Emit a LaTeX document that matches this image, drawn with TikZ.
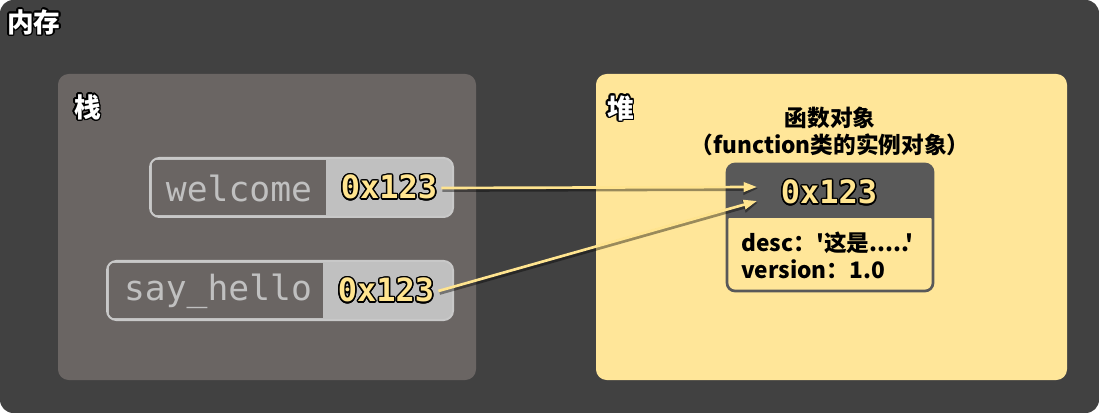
\documentclass[tikz,border=0pt]{standalone}
\usepackage{fontspec}
\setmainfont{Noto Sans CJK SC}
\setmonofont{DejaVu Sans Mono}
\newfontfamily\fieldfont{Noto Sans CJK SC}
\usepackage{contour}
\contourlength{1.1pt}
\usetikzlibrary{arrows.meta}
\definecolor{memorybg}{HTML}{414141}
\definecolor{stackbg}{HTML}{6A6563}
\definecolor{heapbg}{HTML}{FFE699}
\definecolor{slotbg}{HTML}{C0C0C0}
\definecolor{slotline}{HTML}{C8C8C8}
\definecolor{objtop}{HTML}{595959}
\definecolor{addrfg}{HTML}{FFE48F}
\tikzset{
  area/.style={font=\bfseries\fontsize{20}{23}\selectfont, text=white, anchor=north west, inner sep=0pt},
  varname/.style={font=\ttfamily\fontsize{26}{30}\selectfont, text=slotbg, inner sep=2pt},
  addr/.style={font=\ttfamily\bfseries\fontsize{24}{28}\selectfont, text=addrfg, inner sep=3pt},
  caption/.style={font=\bfseries\fontsize{17}{21}\selectfont, text=black, inner sep=1pt},
  field/.style={font=\fieldfont\bfseries\fontsize{17}{21}\selectfont, text=black, anchor=west, inner sep=0pt},
  ref/.style={draw=addrfg, line width=2pt, -{Triangle[length=10pt,width=7pt]}},
  refshadow/.style={draw=black, opacity=0.4, line width=3.6pt, -{Triangle[length=11pt,width=9pt]}, transform canvas={shift={(1,1.5)}}}
}
\begin{document}
\begin{tikzpicture}[x=0.75pt,y=-0.75pt]
			%%%%% START %%%%%
			\useasboundingbox (0,0) rectangle (1099,413);
			\fill[white] (0,0) rectangle (1099,413);
			\fill[memorybg, rounded corners=10pt] (0,0) rectangle (1099,413);
			\node[area] (memory) at (7,9) {\contour{black}{内存}};
			
			% stack
			\fill[stackbg, rounded corners=8pt] (58,74) rectangle (476,380);
			\node[area] (stack) at (74,94) {\contour{black}{栈}};
			
			\fill[slotbg, rounded corners=7pt] (150,158) rectangle (453,217);
			\fill[stackbg] (152,160) rectangle (326,215);
			\draw[slotline, line width=1.5pt, rounded corners=7pt] (150,158) rectangle (453,217);
			\node[varname] (welcome) at (239,188) {welcome};
			\node[addr] (welcomeaddr) at (389,188) {\contour{black}{0x123}};
			
			\fill[slotbg, rounded corners=7pt] (107,261) rectangle (453,320);
			\fill[stackbg] (109,263) rectangle (323,318);
			\draw[slotline, line width=1.5pt, rounded corners=7pt] (107,261) rectangle (453,320);
			\node[varname] (sayhello) at (218,291) {say\_hello};
			\node[addr] (sayhelloaddr) at (386,291) {\contour{black}{0x123}};
			
			% heap
			\fill[heapbg, rounded corners=8pt] (596,74) rectangle (1067,380);
			\node[area] (heap) at (607,95) {\contour{black}{堆}};
			\node[caption] (objtitle) at (830,118) {函数对象};
			\node[caption] (objclass) at (830,145) {（function类的实例对象）};
			
			\fill[objtop, rounded corners=6pt] (727,164) rectangle (933,222);
			\fill[heapbg] (729,218) rectangle (931,289);
			\draw[objtop, line width=2pt, rounded corners=6pt] (727,164) rectangle (933,291);
			\node[addr] (objaddr) at (829,193) {\contour{black}{0x123}};
			\node[field] (desc) at (741,243) {desc：'这是.....'};
			\node[field] (version) at (741,269) {version：1.0};
			
			% references
			\coordinate (in1) at (757,187);
			\coordinate (in2) at (757,201);
			\draw[refshadow] (welcomeaddr.east) -- (in1);
			\draw[refshadow] (sayhelloaddr.east) -- (in2);
			\draw[ref] (welcomeaddr.east) -- (in1);
			\draw[ref] (sayhelloaddr.east) -- (in2);
			%%%%% END %%%%%
		\end{tikzpicture}
\end{document}
